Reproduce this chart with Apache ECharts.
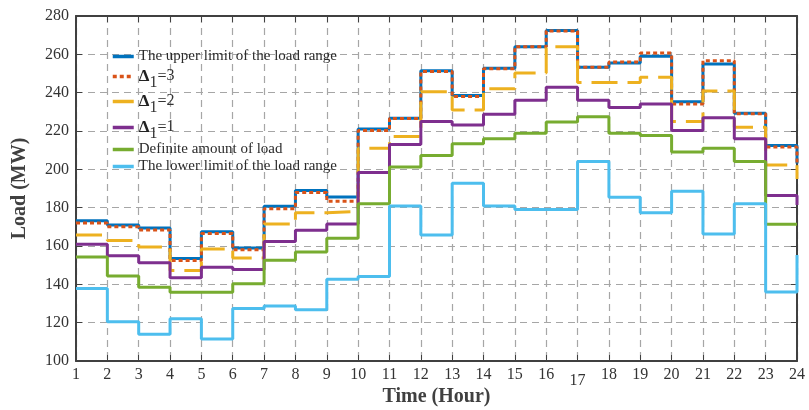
<!DOCTYPE html>
<html>
<head>
<meta charset="utf-8">
<script src="https://cdn.jsdelivr.net/npm/echarts@6/dist/echarts.min.js"></script>
<style>
  html, body { margin: 0; padding: 0; background: #fff; }
  #chart { width: 809px; height: 410px; }
</style>
</head>
<body>
<div id="chart"></div>
<script>
// Hourly load profile (MW), hours 1..24, drawn as stair steps
const hours = [1,2,3,4,5,6,7,8,9,10,11,12,13,14,15,16,17,18,19,20,21,22,23,24];

const upperLimit = [173.2, 171.0, 169.4, 153.5, 167.5, 159.0, 180.8, 188.9, 185.6, 221.0, 226.7, 251.4,
                    238.5, 252.8, 264.0, 272.4, 253.3, 255.5, 259.0, 235.3, 255.0, 229.3, 212.4, 203.0];
const delta3     = [172.0, 170.1, 168.4, 152.5, 166.5, 158.0, 179.5, 187.9, 183.4, 220.2, 226.5, 251.0,
                    238.0, 252.5, 264.0, 272.2, 253.3, 256.0, 260.7, 234.1, 256.7, 229.0, 211.6, 203.0];
const delta2     = [165.8, 162.9, 159.5, 147.2, 158.5, 153.8, 171.5, 177.4, 178.1, 211.0, 217.1, 240.5,
                    231.0, 242.1, 250.3, 264.0, 245.3, 245.3, 248.1, 225.0, 240.9, 221.9, 202.2, 195.0];
const delta1     = [160.9, 154.9, 151.3, 143.4, 148.9, 147.7, 162.4, 168.2, 171.5, 198.3, 212.9, 225.0,
                    223.1, 228.8, 236.0, 242.8, 236.0, 232.2, 234.1, 220.2, 226.9, 215.9, 186.4, 181.4];
const definite   = [154.2, 144.4, 138.5, 135.9, 135.9, 140.3, 152.6, 156.9, 164.1, 182.1, 201.2, 207.2,
                    213.3, 215.9, 218.8, 224.7, 227.4, 218.8, 217.6, 209.0, 211.0, 204.1, 171.4, 171.4];
const lowerLimit = [137.8, 120.5, 114.0, 122.1, 111.5, 127.4, 128.7, 126.8, 142.7, 144.1, 180.9, 165.7,
                    192.8, 180.9, 179.1, 179.1, 204.1, 185.5, 177.4, 188.6, 166.2, 182.1, 136.0, 155.3];

const yTicks = [100, 120, 140, 160, 180, 200, 220, 240, 260, 280];

const seriesNames = [
  'The upper limit of the load range',
  'Δ1=3',
  'Δ1=2',
  'Δ1=1',
  'Definite amount of load',
  'The lower limit of the load range'
];
const seriesValues = [upperLimit, delta3, delta2, delta1, definite, lowerLimit];
const seriesColors = ['#0072BD', '#D95319', '#EDB120', '#7E2F8E', '#77AC30', '#4DBEEE'];
const seriesDash   = ['solid', [4, 3], [26, 10], 'solid', 'solid', 'solid'];
const legendTops   = [49, 68, 93, 119, 142, 159];

const FONT = 'Liberation Serif';

const series = seriesNames.map((name, i) => ({
  name: name,
  type: 'line',
  step: 'end',
  symbol: 'none',
  data: hours.map((h, k) => [h, seriesValues[i][k]]),
  lineStyle: { color: seriesColors[i], width: 3, type: seriesDash[i] },
  itemStyle: { color: seriesColors[i] },
  z: 2 + i
}));

const legendRich = {
  d: { fontFamily: FONT, fontWeight: 'bold', fontSize: 17, color: '#222' },
  s: { fontFamily: FONT, fontSize: 16, color: '#333', padding: [13, 0, 0, 0] },
  e: { fontFamily: FONT, fontSize: 16, color: '#333' },
  n: { fontFamily: FONT, fontSize: 16, color: '#333', padding: [0, 0, 1, 0] }
};

const legends = seriesNames.map((name, i) => ({
  data: [name],
  left: 111,
  top: legendTops[i],
  orient: 'vertical',
  padding: 0,
  itemWidth: 21,
  itemHeight: 10,
  itemGap: 0,
  selectedMode: false,
  itemStyle: { opacity: 0 },
  lineStyle: { width: 3.5 },
  textStyle: { fontFamily: FONT, fontSize: 15, color: '#2b2b2b', rich: legendRich },
  formatter: function (n) {
    if (n.indexOf('Δ1=') === 0) {
      return '{d|Δ}{s|1}{e|=}{n|' + n.slice(3) + '}';
    }
    return n;
  }
}));

const axisLineStyle = { color: '#404040', width: 2 };
const tickStyle = { show: true, inside: true, length: 6, lineStyle: { color: '#404040', width: 1 } };
const gridLine = { show: true, lineStyle: { color: '#a6a6a6', type: [7, 5], width: 1.2 } };

const option = {
  animation: false,
  backgroundColor: '#ffffff',
  grid: { left: 76, right: 12, top: 16, bottom: 49, containLabel: false, outerBoundsMode: 'none' },
  legend: legends,
  xAxis: [{
    type: 'value',
    min: 1, max: 24, interval: 1,
    name: 'Time (Hour)',
    nameLocation: 'middle',
    nameGap: 26,
    nameMoveOverlap: false,
    nameTextStyle: { fontFamily: FONT, fontWeight: 'bold', fontSize: 20, color: '#404040' },
    axisLine: { show: true, lineStyle: axisLineStyle },
    axisTick: tickStyle,
    axisLabel: {
      fontFamily: FONT, fontSize: 16, color: '#333', margin: 6,
      formatter: v => (v === 17 ? '{low|17}' : String(v)),
      rich: { low: { fontFamily: FONT, fontSize: 16, color: '#333', padding: [6, 0, 0, 0] } }
    },
    splitLine: gridLine
  }, {
    type: 'value', position: 'top',
    min: 1, max: 24, interval: 1,
    axisLine: { show: true, onZero: false, lineStyle: axisLineStyle },
    axisTick: tickStyle,
    axisLabel: { show: false },
    splitLine: { show: false }
  }],
  yAxis: [{
    type: 'value',
    min: yTicks[0], max: yTicks[yTicks.length - 1], interval: yTicks[1] - yTicks[0],
    name: 'Load (MW)',
    nameLocation: 'middle',
    nameGap: 46,
    nameMoveOverlap: false,
    nameTextStyle: { fontFamily: FONT, fontWeight: 'bold', fontSize: 20, color: '#404040' },
    axisLine: { show: true, lineStyle: axisLineStyle },
    axisTick: tickStyle,
    axisLabel: { fontFamily: FONT, fontSize: 16, color: '#333', margin: 7 },
    splitLine: gridLine
  }, {
    type: 'value', position: 'right',
    min: yTicks[0], max: yTicks[yTicks.length - 1], interval: yTicks[1] - yTicks[0],
    axisLine: { show: true, onZero: false, lineStyle: axisLineStyle },
    axisTick: tickStyle,
    axisLabel: { show: false },
    splitLine: { show: false }
  }],
  series: series
};

const chart = echarts.init(document.getElementById('chart'), null, { renderer: 'canvas' });
chart.setOption(option);
</script>
</body>
</html>
